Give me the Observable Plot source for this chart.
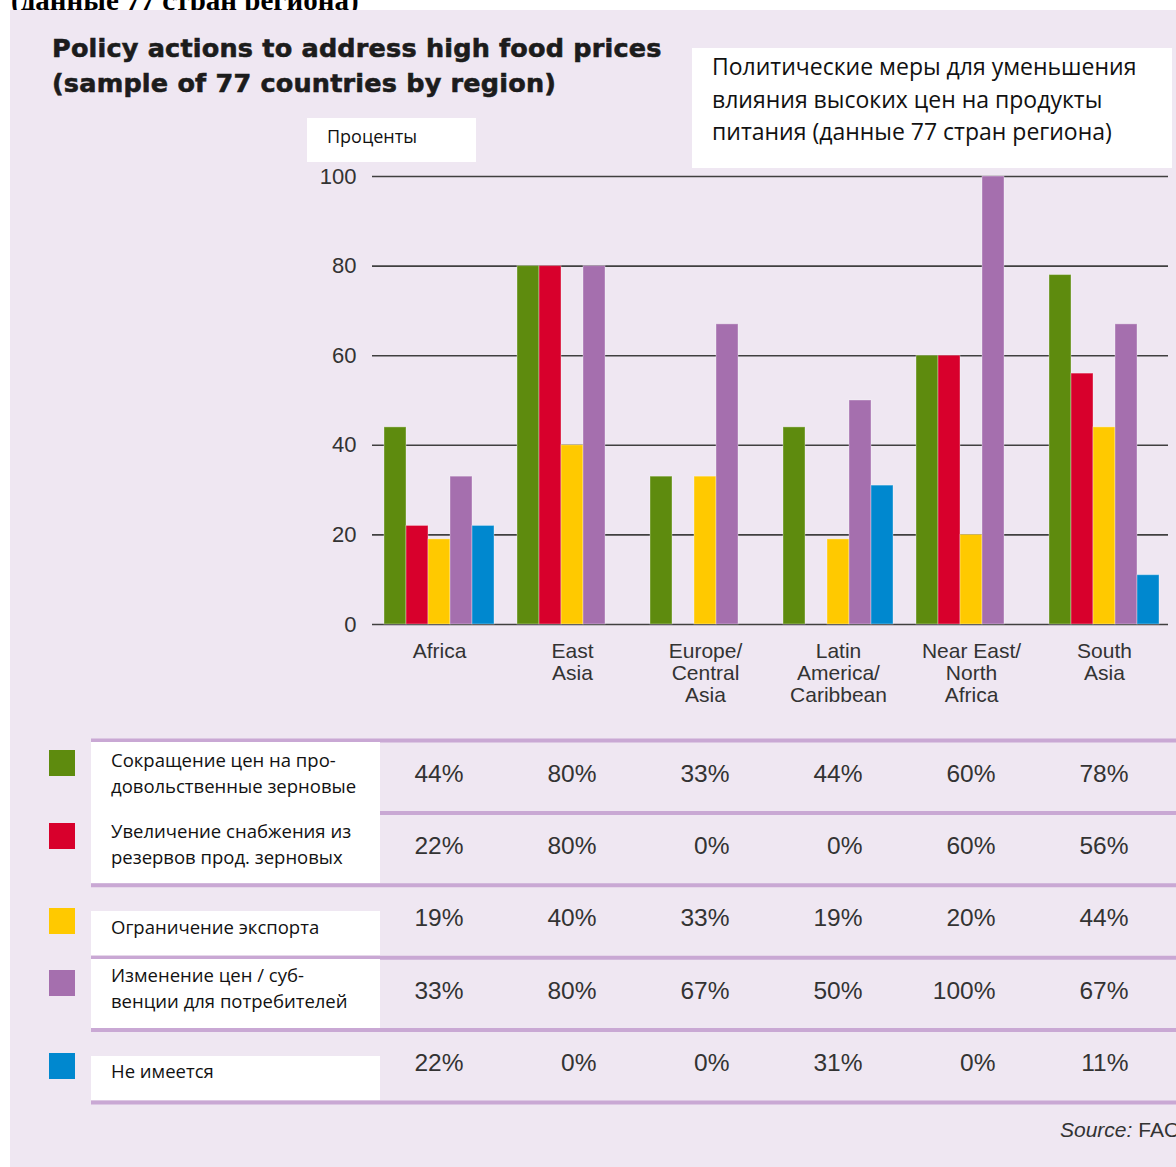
<!DOCTYPE html>
<html>
<head>
<meta charset="utf-8">
<script src="https://cdn.jsdelivr.net/npm/d3@7"></script>
<script src="https://cdn.jsdelivr.net/npm/@observablehq/plot@0.6"></script>
<style>
  html, body { margin: 0; padding: 0; background: #ffffff; }
  #page { position: relative; width: 1176px; height: 1167px; overflow: hidden; background: #ffffff;
          font-family: "Liberation Sans", Arial, sans-serif; }
  .abs { position: absolute; }
  #panel { left: 10px; top: 10px; width: 1166px; height: 1157px; background: #efe7f2; }
  #cut { left: 11px; top: -14px; font-family: "Liberation Serif", "DejaVu Serif", serif; font-weight: bold;
         font-size: 29px; line-height: 29px; color: #000; white-space: nowrap; }
  #title { left: 52px; top: 31px; font-family: "DejaVu Sans", "Liberation Sans", sans-serif; font-weight: bold;
           font-size: 25.5px; line-height: 35px; color: #1c1c1c; white-space: nowrap;
           -webkit-text-stroke: 0.6px #1c1c1c; letter-spacing: 0.2px; }
  .wbox { background: #ffffff; }
  .ru { font-family: "Open Sans", "Noto Sans", sans-serif; color: #111; white-space: nowrap; }
  .leg { font-size: 18.5px; line-height: 26px; left: 111px; }
  .sq { width: 26px; height: 26px; left: 49px; }
  #source { left: 1060px; top: 1118px; font-size: 21px; line-height: 24px; color: #333; white-space: nowrap; }
  svg { overflow: visible; }
</style>
</head>
<body>
<div id="page">
  <div id="cut" class="abs">(данные 77 стран региона)</div>
  <div id="panel" class="abs"></div>
  <div id="title" class="abs">Policy actions to address high food prices<br>(sample of 77 countries by region)</div>

  <div id="chartLayer" class="abs" style="left:0;top:0;width:1176px;height:720px;"></div>
  <div id="tableLayer" class="abs" style="left:0;top:0;width:1176px;height:1110px;"></div>

  <div class="abs wbox" style="left:692px;top:48px;width:480px;height:120px;"></div>
  <div class="abs ru" style="left:712px;top:50px;font-size:23px;line-height:32.5px;">Политические меры для уменьшения<br>влияния высоких цен на продукты<br>питания (данные 77 стран региона)</div>

  <div class="abs wbox" style="left:307px;top:118px;width:169px;height:44px;"></div>
  <div class="abs ru" style="left:327px;top:124px;font-size:18px;line-height:24px;">Проценты</div>

  <div id="legendLayer"></div>

  <div id="source" class="abs"><i>Source:</i> FAO</div>
</div>

<script>
// ---------- data ----------
const regions = ["Africa", "East Asia", "Europe/Central Asia", "Latin America/Caribbean", "Near East/North Africa", "South Asia"];
const regionLabels = ["Africa", "East\nAsia", "Europe/\nCentral\nAsia", "Latin\nAmerica/\nCaribbean", "Near East/\nNorth\nAfrica", "South\nAsia"];

const policies = [
  "Сокращение цен на продовольственные зерновые",
  "Увеличение снабжения из резервов прод. зерновых",
  "Ограничение экспорта",
  "Изменение цен / субвенции для потребителей",
  "Не имеется"
];
const policyLabels = [
  ["Сокращение цен на про-", "довольственные зерновые"],
  ["Увеличение снабжения из", "резервов прод. зерновых"],
  ["Ограничение экспорта"],
  ["Изменение цен / суб-", "венции для потребителей"],
  ["Не имеется"]
];
const colors = ["#5e8b0e", "#d8002c", "#ffc900", "#a56fae", "#0088cf"];

const reduceTaxes        = [44, 80, 33, 44, 60, 78];
const increaseSupply     = [22, 80,  0,  0, 60, 56];
const exportRestrictions = [19, 40, 33, 19, 20, 44];
const priceControls      = [33, 80, 67, 50, 100, 67];
const noAction           = [22,  0,  0, 31,  0, 11];
const seriesValues = [reduceTaxes, increaseSupply, exportRestrictions, priceControls, noAction];

const yTicks = [0, 20, 40, 60, 80, 100];

const rows = policies.flatMap((p, i) =>
  regions.map((r, j) => ({policy: p, region: r, value: seriesValues[i][j], row: i})));

// ---------- chart ----------
const baseStyle = {background: "transparent", fontFamily: "Liberation Sans, Arial, sans-serif", fontSize: "20px", color: "#333", overflow: "visible"};
const W = 1176, H = 720;
const mL = 372, mR = 6, mT = 176, mB = 96;

const grid = Plot.plot({
  width: W, height: H, marginLeft: mL, marginRight: mR + 2, marginTop: mT, marginBottom: mB,
  style: baseStyle,
  y: {domain: [0, 100]},
  marks: [
    Plot.ruleY(yTicks, {stroke: "#404040", strokeWidth: 1.6}),
    Plot.axisY(yTicks, {tickSize: 0, tickPadding: 16, label: null, fontSize: 22, fill: "#333"})
  ]
});

const bars = Plot.plot({
  width: W, height: H, marginLeft: mL, marginRight: mR, marginTop: mT, marginBottom: mB,
  style: baseStyle,
  fx: {domain: regions, paddingInner: 0.173, paddingOuter: 0.0865, axis: null, label: null},
  x: {domain: policies, padding: 0, axis: null},
  y: {domain: [0, 100], axis: null},
  color: {domain: policies, range: colors},
  marks: [
    Plot.barY(rows, {fx: "region", x: "policy", y: "value", fill: "policy",
      stroke: "#ffffff", strokeOpacity: 0.35, strokeWidth: 1}),
    Plot.text(regions, {fx: d => d, text: (d, i) => regionLabels[i], frameAnchor: "bottom",
      lineAnchor: "top", dy: 18, fontSize: 21, lineHeight: 1.05, fill: "#333"})
  ]
});

for (const svg of [grid, bars]) {
  svg.style.position = "absolute"; svg.style.left = "0px"; svg.style.top = "0px";
  document.getElementById("chartLayer").appendChild(svg);
}

// ---------- table ----------
const table = Plot.plot({
  width: W, height: 1110, marginLeft: 91, marginRight: 0, marginTop: 740, marginBottom: 8,
  style: baseStyle,
  x: {domain: regions, range: [mL, W - mR], paddingInner: 0.173, paddingOuter: 0.0865, axis: null},
  y: {domain: [0, 5], range: [740, 1102], axis: null},
  marks: [
    Plot.ruleY(d3.range(6), {stroke: "#c9a8d4", strokeWidth: 4}),
    Plot.text(rows, {x: "region", y: d => d.row + 0.5, text: d => d.value + "%", textAnchor: "end",
      dx: 24, dy: -3, fontSize: 24.5, fill: "#333", letterSpacing: "0.4px"})
  ]
});
table.style.position = "absolute"; table.style.left = "0px"; table.style.top = "0px";
document.getElementById("tableLayer").appendChild(table);

// ---------- legend (squares + white label boxes) ----------
const legendLayer = document.getElementById("legendLayer");
const sqTops = [750, 823, 908, 970, 1053];
const boxes = [[742, 141], [911, 44], [959, 69], [1056, 44]];
const labelTops = [747, 818, 914, 962, 1058];
boxes.forEach(([t, h]) => {
  const b = document.createElement("div");
  b.className = "abs wbox";
  b.style.cssText = `left:91px;top:${t}px;width:289px;height:${h}px;`;
  legendLayer.appendChild(b);
});
policies.forEach((p, i) => {
  const s = document.createElement("div");
  s.className = "abs sq";
  s.style.top = sqTops[i] + "px";
  s.style.background = colors[i];
  legendLayer.appendChild(s);
  const l = document.createElement("div");
  l.className = "abs ru leg";
  l.style.top = labelTops[i] + "px";
  l.innerHTML = policyLabels[i].join("<br>");
  legendLayer.appendChild(l);
});
</script>
</body>
</html>
